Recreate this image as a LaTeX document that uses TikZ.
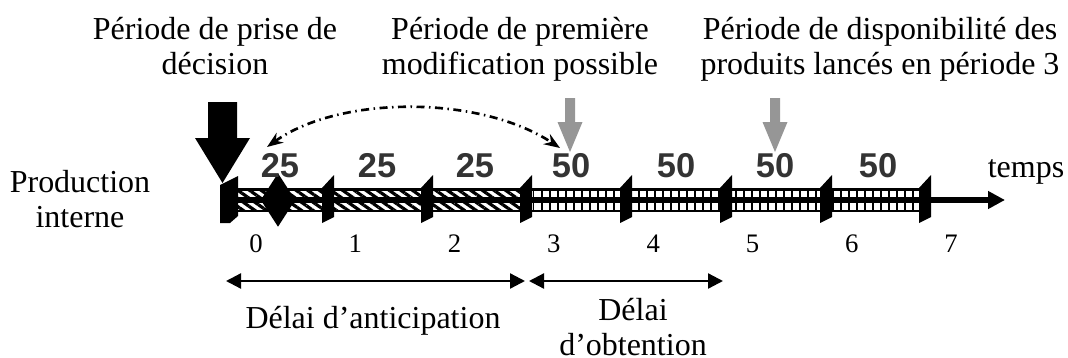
\documentclass[tikz,border=0pt]{standalone}
\usepackage{fontspec}
\setmainfont{Liberation Serif}
\setsansfont{Liberation Sans}
\usepackage{xcolor}
\usepackage{tikz}
\usetikzlibrary{arrows.meta,patterns.meta,shapes.geometric}
\definecolor{grisfleche}{RGB}{150,150,150}
\definecolor{grischiffre}{RGB}{51,51,51}

\begin{document}
\begin{tikzpicture}[x=1cm,y=-1cm,
    texte/.style={font=\fontsize{9.1}{9.8}\selectfont,align=center,anchor=base,inner sep=0pt},
    qte/.style={font=\fontsize{9.8}{10}\selectfont\sffamily\bfseries,text=grischiffre,anchor=base,inner sep=0pt},
    periode/.style={font=\fontsize{7.6}{8}\selectfont,anchor=base,inner sep=0pt},
    hachure/.style={fill=white,postaction={pattern={Lines[angle=-35,distance=1.9pt,line width=0.9pt]}}},
    grille/.style={fill=white,postaction={pattern={Lines[angle=90,distance=2.3pt,line width=0.55pt]}}},
    delai/.style={line width=0.65pt,{Triangle[length=0.15cm,width=0.15cm]}-{Triangle[length=0.15cm,width=0.15cm]}}]
    \useasboundingbox (0,0) rectangle (10.68,3.58);
    % textes du haut (ancre = derniere ligne)
    \node[texte] (decision) at (2.15,0.74) {Période de prise de\\décision};
    \node[texte] (modif) at (5.20,0.74) {Période de première\\modification possible};
    \node[texte] (dispo) at (8.80,0.74) {Période de disponibilité des\\produits lancés en période 3};
    \node[texte] (prod) at (0.80,2.27) {Production\\interne};
    \node[texte] (temps) at (10.26,1.77) {temps};
    % barre du temps
    \fill (2.20,1.88) rectangle (9.25,2.12);
    \path[hachure] (2.38,1.905) rectangle (5.21,1.97);
    \path[hachure] (2.38,2.025) rectangle (5.21,2.095);
    \path[grille] (5.31,1.905) rectangle (9.19,1.97);
    \path[grille] (5.31,2.025) rectangle (9.19,2.095);
    \coordinate (fin) at (9.31,2.00);
    \coordinate (tmax) at (10.05,2.00);
    \draw[line width=1.6pt,-{Triangle[length=0.17cm,width=0.17cm]}] (fin) -- (tmax);
    \fill (2.20,1.85) -- (2.38,1.76) -- (2.38,2.16) -- (2.30,2.23) -- (2.20,2.23) -- cycle;
    \foreach \x in {3.22,4.21,5.20,6.20,7.20,8.20,9.19}
        \fill (\x,1.88) -- (\x+0.12,1.75) -- (\x+0.12,2.17) -- (\x,2.23) -- cycle;
    \node[diamond,fill,inner sep=0pt,minimum width=0.35cm,minimum height=0.54cm] (losange) at (2.78,2.00) {};
    % fleches verticales
    \fill (2.08,1.02) -- (2.37,1.02) -- (2.37,1.38) -- (2.50,1.38) -- (2.225,1.83) -- (1.95,1.38) -- (2.08,1.38) -- cycle;
    \foreach \x in {5.70,7.75}
        \fill[grisfleche] (\x-0.05,0.98) -- (\x+0.05,0.98) -- (\x+0.05,1.22) -- (\x+0.125,1.22) -- (\x,1.52) -- (\x-0.125,1.22) -- (\x-0.05,1.22) -- cycle;
    \coordinate (arcG) at (2.67,1.47);
    \coordinate (arcD) at (5.60,1.48);
    \draw[line width=0.75pt,dash pattern=on 0.08cm off 0.045cm on 0.015cm off 0.045cm,{Stealth[length=0.16cm,width=0.12cm]}-{Stealth[length=0.16cm,width=0.12cm]}] (arcG) .. controls (3.40,0.95) and (4.80,0.95) .. (arcD);
    % quantites et periodes
    \foreach \x/\q [count=\i] in {2.80/25,3.77/25,4.75/25,5.71/50,6.76/50,7.75/50,8.78/50}
        \node[qte] (qte\i) at (\x,1.77) {\q};
    \foreach \i in {0,...,7}
        \node[periode] (p\i) at (2.56+0.993*\i,2.52) {\i};
    % delais
    \coordinate (d0) at (2.26,2.81);
    \coordinate (d3) at (5.25,2.81);
    \coordinate (e3) at (5.29,2.81);
    \coordinate (e5) at (7.23,2.81);
    \draw[delai] (d0) -- (d3);
    \draw[delai] (e3) -- (e5);
    \node[texte] (anticip) at (3.73,3.28) {Délai d’anticipation};
    \node[texte] (obtention) at (6.33,3.55) {Délai\\d’obtention};
\end{tikzpicture}
\end{document}
